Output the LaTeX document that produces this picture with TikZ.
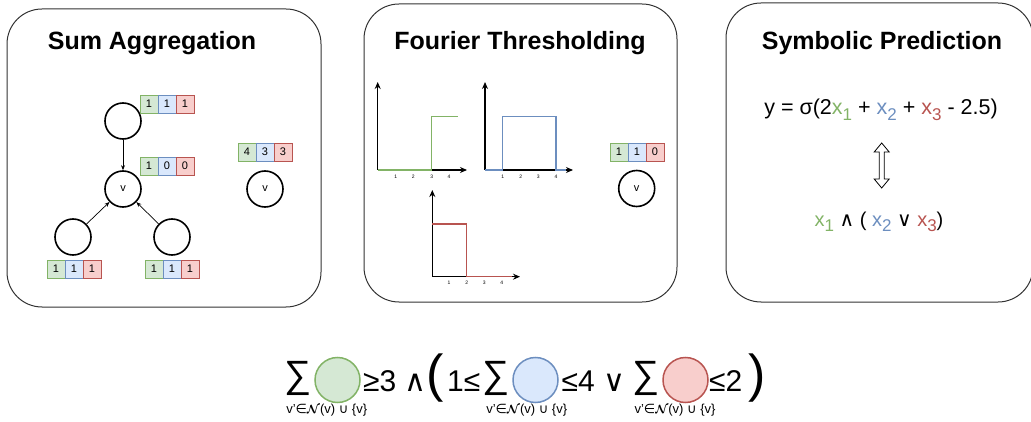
\documentclass[tikz,border=0pt]{standalone}
\usepackage{fontspec}
\usepackage{amsmath}
\usetikzlibrary{arrows.meta}
\setmainfont{Liberation Sans}
\newfontfamily\symfont{DejaVu Sans}

\definecolor{gfill}{HTML}{D5E8D4}\definecolor{gline}{HTML}{82B366}
\definecolor{bfill}{HTML}{DAE8FC}\definecolor{bline}{HTML}{6C8EBF}
\definecolor{rfill}{HTML}{F8CECC}\definecolor{rline}{HTML}{B85450}

% three coloured feature cells, first one placed by its north-west corner
\newcommand\featvec[5]{%
  \node[cell,fill=gfill,draw=gline,anchor=north west] (#1-1) at (#2) {#3};
  \node[cell,fill=bfill,draw=bline,anchor=west] (#1-2) at (#1-1.east) {#4};
  \node[cell,fill=rfill,draw=rline,anchor=west] (#1-3) at (#1-2.east) {#5};}
% coloured variable with a lowered index
\newcommand\xvar[2]{\textcolor{#1}{x\raisebox{-0.28em}{\fontsize{17}{17}\selectfont #2}}}
\newcommand\nbset{v'{\symfont ∈}$\boldsymbol{\mathcal{N}}$(v) {\symfont ∪} \{v\}}

\begin{document}
\begin{tikzpicture}[x=1pt,y=-1pt,
  panel/.style={draw=black!80,line width=1,rounded corners=35},
  title/.style={font=\fontsize{25}{25}\selectfont\bfseries},
  cell/.style={minimum width=18,minimum height=18,inner sep=0,outer sep=0,
    line width=0.8,font=\fontsize{11}{11}\selectfont},
  gnode/.style={circle,draw,line width=1.6,minimum size=36,inner sep=0,
    font=\fontsize{11}{11}\selectfont},
  edge/.style={-{Stealth[length=5,width=4]},line width=0.7},
  axis/.style={-{Stealth[length=7,width=6]},line width=1.3},
  curve/.style={line width=1.4},
  tick/.style={font=\fontsize{5}{5}\selectfont,inner sep=0},
  formula/.style={font=\fontsize{21.5}{21.5}\selectfont,inner sep=0},
  logicf/.style={font=\fontsize{20}{20}\selectfont,inner sep=0},
  big/.style={font=\fontsize{30}{30}\selectfont,inner sep=0},
  sumsig/.style={font=\fontsize{38}{38}\selectfont,inner sep=0},
  paren/.style={font=\fontsize{52}{52}\selectfont,inner sep=0},
  blob/.style={circle,line width=1.5,minimum size=45,inner sep=0},
  under/.style={font=\fontsize{13}{13}\selectfont,inner sep=0}]
\useasboundingbox (0,0) rectangle (1031,422);

% ---------- panels ----------
\draw[panel] (7,9) rectangle (321,307);
\draw[panel] (364,4) rectangle (677,302);
\draw[panel] (726,3) rectangle (1033,302);

\node[title] (t1) at (152,43) {Sum Aggregation};
\node[title] (t2) at (520,43) {Fourier Thresholding};
\node[title] (t3) at (882,43) {Symbolic Prediction};

% ---------- sum aggregation ----------
\node[gnode] (top) at (123,121) {};
\node[gnode] (v) at (123,189) {v};
\node[gnode] (bl) at (73,237) {};
\node[gnode] (br) at (172,237) {};
\node[gnode] (vagg) at (265,189) {v};
\draw[edge] (top) -- (v);
\draw[edge] (bl) -- (v);
\draw[edge] (br) -- (v);
\featvec{ftop}{140,95}{1}{1}{1}
\featvec{fv}{140,157}{1}{0}{0}
\featvec{fagg}{238,143}{4}{3}{3}
\featvec{fbl}{47,260}{1}{1}{1}
\featvec{fbr}{145,260}{1}{1}{1}

% ---------- fourier thresholding ----------
% plot 1 (green step)
\draw[axis] (377.7,170) -- (377.7,82);
\draw[axis] (377.7,170) -- (467,170);
\draw[curve,gline] (377.7,170) -- (431.7,170) -- (431.7,116.7) -- (458,116.7);
\foreach \i/\x in {1/395.7,2/413.3,3/431.7,4/449}
  \node[tick] (pa\i) at (\x,176.5) {\i};
% plot 2 (blue window)
\draw[axis] (485,170) -- (485,82);
\draw[axis] (485,170) -- (573,170);
\draw[curve,bline] (485,170) -- (502.7,170) -- (502.7,116.7) -- (556,116.7)
  -- (556,170) -- (566,170);
\foreach \i/\x in {1/502.7,2/520.7,3/538.3,4/556}
  \node[tick] (pb\i) at (\x,176.5) {\i};
% plot 3 (red falling step)
\draw[axis] (432.3,276.7) -- (432.3,190);
\draw[axis] (432.3,276.7) -- (520,276.7);
\draw[curve,rline] (432.3,224) -- (466.7,224) -- (466.7,276.7) -- (511.7,276.7);
\foreach \i/\x in {1/449,2/466.7,3/484.3,4/501.7}
  \node[tick] (pc\i) at (\x,283) {\i};

\featvec{ffour}{610,143}{1}{1}{0}
\node[gnode] (vfour) at (636.7,188.5) {v};

% ---------- symbolic prediction ----------
\node[formula] (lin) at (881,110)
  {y = σ(2\xvar{gline}{1} + \xvar{bline}{2} + \xvar{rline}{3} - 2.5)};
\node[logicf] (logic) at (879,222)
  {\xvar{gline}{1} {\symfont ∧} ( \xvar{bline}{2} {\symfont ∨} \xvar{rline}{3})};
\draw[line width=0.8,fill=white]
  (881.7,143) -- (889.2,152) -- (884.2,152) -- (884.2,179) -- (889.2,179)
  -- (881.7,188) -- (874.2,179) -- (879.2,179) -- (879.2,152) -- (874.2,152) -- cycle;

% ---------- combined rule ----------
\node[sumsig] (s1) at (298,378) {∑};
\node[blob,draw=gline,fill=gfill] (c1) at (337.5,380) {};
\node[big,anchor=base west] (ge3) at (363,391) {≥3 {\symfont ∧}};
\node[paren] (lp) at (435,378) {(};
\node[big,anchor=base west] (le1) at (447,391) {1≤};
\node[sumsig] (s2) at (496,378) {∑};
\node[blob,draw=bline,fill=bfill] (c2) at (535.5,380) {};
\node[big,anchor=base west] (le4) at (561.5,391) {≤4 {\symfont ∨}};
\node[sumsig] (s3) at (646,378) {∑};
\node[blob,draw=rline,fill=rfill] (c3) at (685.5,380) {};
\node[big,anchor=base west] (le2) at (709,391) {≤2};
\node[paren] (rp) at (757,378) {)};
\node[under] (u1) at (326.7,410) {\nbset};
\node[under] (u2) at (526.7,410) {\nbset};
\node[under] (u3) at (675,410) {\nbset};
\end{tikzpicture}
\end{document}
